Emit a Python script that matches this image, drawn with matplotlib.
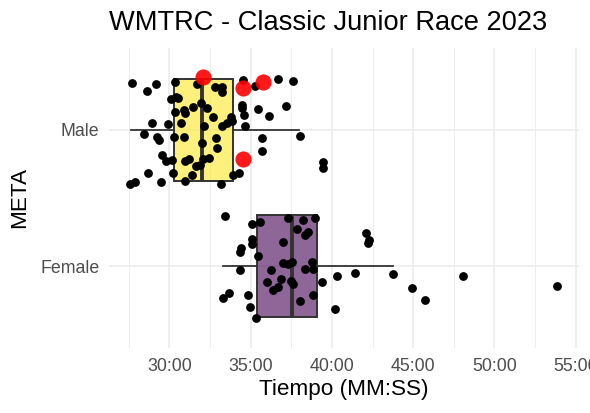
import matplotlib
matplotlib.use("Agg")
import matplotlib.pyplot as plt
from matplotlib.ticker import FuncFormatter, MultipleLocator

plt.rcParams['font.family'] = ['Liberation Sans', 'DejaVu Sans']

# tiempos en minutos (decimal) y desplazamiento vertical (jitter)
categorias = ["Female", "Male"]

male_t = [27.67, 28.60, 29.15, 30.34, 31.67, 32.80, 33.21, 33.21, 34.55, 35.26, 36.65, 37.58,
          30.07, 30.40, 30.54, 30.34, 30.89, 30.97, 31.45, 31.92, 32.33, 34.48, 34.48, 35.43, 36.10, 37.17, 34.57,
          28.90, 29.93, 30.73, 32.14, 32.71, 33.23, 33.54, 33.82, 33.78, 34.66,
          28.43, 29.21, 29.37, 30.28, 30.89, 32.03, 32.86, 35.72, 38.03, 32.95, 35.69,
          29.56, 29.77, 30.14, 30.95, 31.22, 31.63, 31.85, 32.08, 32.45,
          30.22, 31.38, 28.70, 29.51, 27.60, 27.85, 30.97, 33.15, 33.93, 34.31, 39.43, 39.43]
male_j = [0.341, 0.282, 0.336, 0.353, 0.336, 0.316, 0.316, 0.274, 0.369, 0.319, 0.374, 0.360,
          0.224, 0.239, 0.231, 0.128, 0.146, 0.122, 0.170, 0.195, 0.163, 0.182, 0.158, 0.153, 0.104, 0.173, 0.107,
          0.049, 0.042, 0.049, 0.031, 0.093, 0.029, 0.047, 0.064, 0.097, 0.031,
          -0.031, -0.049, -0.078, -0.056, -0.056, -0.097, -0.058, -0.058, -0.042, -0.136, -0.152,
          -0.182, -0.231, -0.219, -0.231, -0.212, -0.268, -0.255, -0.214, -0.207,
          -0.316, -0.328, -0.316, -0.380, -0.396, -0.385, -0.377, -0.396, -0.328, -0.314, -0.236, -0.281]

fem_t = [33.42, 35.09, 35.57, 37.32, 38.23, 38.95, 37.86, 38.34, 38.55, 35.06, 35.06, 34.43, 34.36, 37.00, 35.45,
         37.00, 37.31, 37.52, 38.75, 38.85, 38.34, 34.32, 36.23, 36.88, 37.48, 37.58, 35.98, 36.65, 36.37,
         39.40, 40.33, 41.42, 43.77, 42.07, 42.28, 42.23, 44.90, 45.72, 48.08, 53.83,
         33.67, 33.28, 34.83, 38.83, 38.03, 34.95, 40.18, 35.32]
fem_j = [0.365, 0.307, 0.325, 0.350, 0.338, 0.355, 0.275, 0.230, 0.248, 0.197, 0.166, 0.134, 0.104, 0.177, 0.075,
         0.027, 0.018, 0.033, 0.029, -0.018, -0.020, -0.027, -0.027, -0.091, -0.107, -0.131, -0.119, -0.155, -0.174,
         -0.115, -0.071, -0.051, -0.058, 0.246, 0.192, 0.168, -0.161, -0.246, -0.073, -0.144,
         -0.197, -0.234, -0.212, -0.212, -0.258, -0.301, -0.314, -0.378]

# corredores destacados (rojo), categoria Male
dest_t = [32.09, 34.54, 35.74, 34.50]
dest_j = [0.391, 0.310, 0.353, -0.214]

# estadisticas de las cajas: Female, Male
whislo = [33.30, 27.61]
q1 = [35.40, 30.28]
med = [37.52, 31.98]
q3 = [39.10, 33.91]
whishi = [43.77, 38.00]
colores = ["#440154", "#FDE725"]


def mmss(m, pos=None):
    s = int(round(m * 60))
    return "%02d:%02d" % (s // 60, s % 60)


fig = plt.figure(figsize=(5.9, 4.13), dpi=100)
ax = fig.add_axes([109/590, 65/413, 469.5/590, 300/413])

stats = []
for i in range(len(categorias)):
    stats.append(dict(whislo=whislo[i], q1=q1[i], med=med[i], q3=q3[i], whishi=whishi[i]))

bp = ax.bxp(stats, positions=[1, 2], widths=0.75, orientation='horizontal', patch_artist=True,
            showfliers=False, showcaps=False,
            boxprops=dict(edgecolor='#333333', linewidth=1.4),
            medianprops=dict(color='#333333', linewidth=2.8),
            whiskerprops=dict(color='#333333', linewidth=1.3))
for patch, c in zip(bp['boxes'], colores):
    fc = matplotlib.colors.to_rgb(c)
    patch.set_facecolor((fc[0], fc[1], fc[2], 0.6))
    patch.set_zorder(2)

ax.scatter(male_t, [2 + j for j in male_j], s=40, color='black', zorder=3, linewidths=0)
ax.scatter(fem_t, [1 + j for j in fem_j], s=40, color='black', zorder=3, linewidths=0)
ax.scatter(dest_t, [2 + j for j in dest_j], s=135, color='red', alpha=0.9, zorder=4, linewidths=0)

ax.set_xlim(26.28, 55.17)
ax.set_ylim(0.4, 2.6)
ax.xaxis.set_major_locator(MultipleLocator(5))
ax.xaxis.set_minor_locator(MultipleLocator(2.5))
ax.xaxis.set_major_formatter(FuncFormatter(mmss))
ax.set_yticks([1, 2])
ax.set_yticklabels(categorias)

ax.grid(True, which='major', color='#EBEBEB', linewidth=1.1, zorder=0)
ax.grid(True, which='minor', axis='x', color='#EBEBEB', linewidth=0.6, zorder=0)
ax.set_axisbelow(True)
for sp in ax.spines.values():
    sp.set_visible(False)
ax.tick_params(which='both', length=0)
ax.tick_params(axis='x', labelsize=12.8, labelcolor='#4D4D4D', pad=7)
ax.tick_params(axis='y', labelsize=12.8, labelcolor='#4D4D4D', pad=7)

fig.text(343.75/590, 1 - 395.3/413, "Tiempo (MM:SS)", ha='center', va='baseline', fontsize=16.2)
fig.text(19.7/590, 1 - 198/413, "META", ha='center', va='center', rotation=90, fontsize=16.2)
fig.text(109/590, 1 - 30/413, "WMTRC - Classic Junior Race 2023", ha='left', va='baseline', fontsize=19.6)

fig.savefig("out.png", dpi=100)
